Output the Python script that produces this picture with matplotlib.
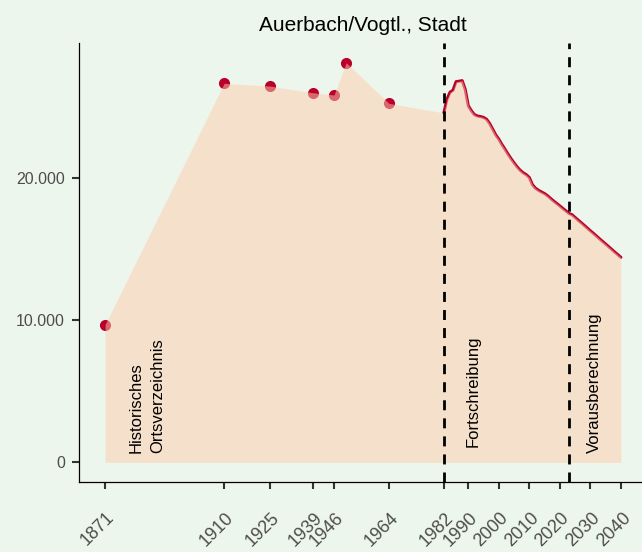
import matplotlib
matplotlib.use("Agg")
import matplotlib.pyplot as plt
from matplotlib.ticker import FuncFormatter
from matplotlib.transforms import ScaledTranslation

plt.rcParams["font.family"] = ["Liberation Sans", "DejaVu Sans"]

# historical census points (Historisches Ortsverzeichnis)
hist_years = [1871, 1910, 1925, 1939, 1946, 1950, 1964]
hist_pop = [9700, 26680, 26490, 26020, 25860, 28130, 25270]

# annual series 1982-2040 (Fortschreibung + Vorausberechnung)
line_years = list(range(1982, 2041))
line_pop = [24600, 25550, 26050, 26200, 26800, 26830, 26870, 26250, 25100, 24750,
            24480, 24380, 24340, 24280, 24150, 23850, 23450, 23050, 22750, 22380,
            22050, 21700, 21380, 21080, 20800, 20560, 20380, 20250, 20050, 19550,
            19300, 19150, 19030, 18920, 18760, 18570, 18390, 18220, 18050, 17870,
            17700, 17520, 17430, 17240, 17050, 16870, 16680, 16490, 16300, 16120,
            15930, 15740, 15550, 15370, 15180, 14990, 14800, 14620, 14430]

tick_years = [1871, 1910, 1925, 1939, 1946, 1964, 1982, 1990, 2000, 2010, 2020, 2030, 2040]
ytick_vals = [0, 10000, 20000]
breaks = [1982, 2023]

labels = ["Historisches\nOrtsverzeichnis", "Fortschreibung", "Vorausberechnung"]
label_x = [1884.8, 1991.6, 2031.4]
label_y = [650, 1100, 650]

BG = "#EDF6EC"
FILL = "#FDCEAC"
RED = "#B8002B"

fig = plt.figure(figsize=(6.42, 5.52), dpi=100, facecolor=BG)
ax = fig.add_axes([0.1235, 0.1263, 0.8838, 0.7953], facecolor=BG)

ax.plot(line_years, line_pop, color=RED, lw=2.2, zorder=2, solid_capstyle="round")
ax.plot(hist_years, hist_pop, "o", color=RED, ms=8, mec="none", zorder=2)

area_x = hist_years + line_years
area_y = hist_pop + line_pop
ax.fill_between(area_x, 0, area_y, color=FILL, alpha=0.5, lw=0, zorder=3)

for b in breaks:
    ax.axvline(b, color="black", lw=2, ls=(0, (3.6, 2.9)), zorder=4)

for t, x, y in zip(labels, label_x, label_y):
    ax.text(x, y, t, rotation=90, ha="center", va="bottom", multialignment="left",
            fontsize=12, color="black", zorder=5, linespacing=1.55)

ax.set_xlim(1862.55, 2048.45)
ax.set_ylim(-1400, 29500)
ax.set_xticks(tick_years)
ax.set_yticks(ytick_vals)
ax.yaxis.set_major_formatter(FuncFormatter(lambda v, p: f"{int(v):,}".replace(",", ".")))

for s in ["top", "right"]:
    ax.spines[s].set_visible(False)
for s in ["left", "bottom"]:
    ax.spines[s].set_color("black")
    ax.spines[s].set_linewidth(0.9)

ax.tick_params(axis="both", length=4.8, width=1.5, color="#333333",
               labelcolor="#4D4D4D")
ax.tick_params(axis="y", pad=5.5, labelsize=11.5)
ax.tick_params(axis="x", pad=14.5, labelsize=13)
for lab in ax.get_xticklabels():
    lab.set_rotation(45)
    lab.set_ha("right")
    lab.set_va("top")
    lab.set_rotation_mode("anchor")
    lab.set_transform(lab.get_transform() + ScaledTranslation(0.01, 0, fig.dpi_scale_trans))

ax.set_title("Auerbach/Vogtl., Stadt", fontsize=15, color="black", pad=9)

fig.savefig("out.png", dpi=100, facecolor=BG)
